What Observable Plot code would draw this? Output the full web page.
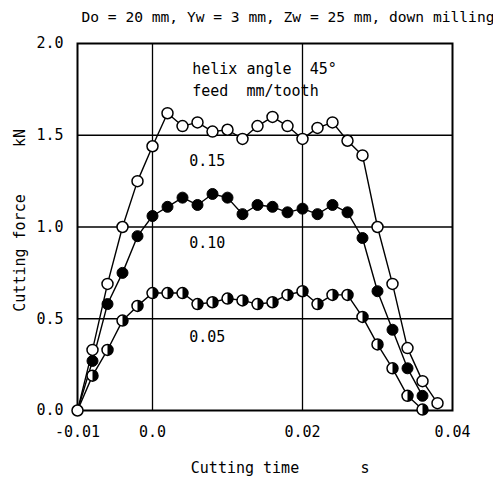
<!DOCTYPE html>
<html><head><meta charset="utf-8">
<script src="https://cdn.jsdelivr.net/npm/d3@7"></script>
<script src="https://cdn.jsdelivr.net/npm/@observablehq/plot@0.6"></script>
<style>body{margin:0;background:#fff}</style>
</head><body><div id="chart"></div>
<script>
const times = [-0.010,-0.008,-0.006,-0.004,-0.002,0.000,0.002,0.004,0.006,0.008,0.010,0.012,0.014,0.016,0.018,0.020,0.022,0.024,0.026,0.028,0.030,0.032,0.034,0.036,0.038];
const force015 = [0,0.33,0.69,1.00,1.25,1.44,1.62,1.55,1.57,1.52,1.53,1.48,1.55,1.60,1.55,1.48,1.54,1.57,1.47,1.39,1.00,0.69,0.34,0.16,0.04];
const force010 = [0,0.27,0.58,0.75,0.95,1.06,1.11,1.16,1.12,1.18,1.16,1.07,1.12,1.11,1.08,1.10,1.07,1.12,1.08,0.94,0.65,0.44,0.23,0.08];
const force005 = [0,0.19,0.33,0.49,0.57,0.64,0.64,0.64,0.58,0.59,0.61,0.60,0.58,0.59,0.63,0.65,0.58,0.63,0.63,0.51,0.36,0.23,0.08,0.005];
const xTicks = [-0.01, 0, 0.02, 0.04];
const xTickLabels = ["-0.01", "0.0", "0.02", "0.04"];
const yTicks = [0, 0.5, 1, 1.5, 2];
const yTickLabels = ["0.0", "0.5", "1.0", "1.5", "2.0"];
const xGrid = [0, 0.02];
const yGrid = [0.5, 1.0, 1.5];
const feedLabels = ["0.15", "0.10", "0.05"];
const titleText = "Do = 20 mm, Yw = 3 mm, Zw = 25 mm, down milling";
const noteLines = ["helix angle  45°", "feed  mm/tooth"];

const s015 = times.map((t, i) => ({t, f: force015[i]}));
const s010 = force010.map((f, i) => ({t: times[i], f}));
const s005 = force005.map((f, i) => ({t: times[i], f}));

const halfRight = {
  draw(ctx, size) {
    const r = Math.sqrt(size / Math.PI);
    ctx.moveTo(0, -r);
    ctx.arc(0, 0, r, -Math.PI / 2, Math.PI / 2);
    ctx.closePath();
  }
};

const R = 5.5;
const chart = Plot.plot({
  width: 493,
  height: 480,
  marginLeft: 77,
  marginRight: 41,
  marginTop: 43,
  marginBottom: 70,
  style: {fontFamily: "DejaVu Sans Mono", fontSize: "15px", background: "white", color: "black"},
  x: {domain: [-0.01, 0.04]},
  y: {domain: [0, 2]},
  marks: [
    Plot.ruleX(xGrid, {stroke: "black", strokeWidth: 1.3}),
    Plot.ruleY(yGrid, {stroke: "black", strokeWidth: 1.3}),
    Plot.frame({stroke: "black", strokeWidth: 2}),
    Plot.axisX({ticks: xTicks, tickFormat: (d, i) => xTickLabels[i], tickSize: 0, tickPadding: 16, fontSize: 15, label: null}),
    Plot.axisY({ticks: yTicks, tickFormat: (d, i) => yTickLabels[i], tickSize: 0, tickPadding: 14, fontSize: 15, label: null}),
    Plot.line(s015, {x: "t", y: "f", stroke: "black", strokeWidth: 1.4}),
    Plot.line(s010, {x: "t", y: "f", stroke: "black", strokeWidth: 1.4}),
    Plot.line(s005, {x: "t", y: "f", stroke: "black", strokeWidth: 1.4}),
    Plot.dot(s005.slice(1), {x: "t", y: "f", r: R, fill: "white", stroke: "black", strokeWidth: 1.5}),
    Plot.dot(s005.slice(1), {x: "t", y: "f", r: R, symbol: halfRight, fill: "black"}),
    Plot.dot(s010.slice(1), {x: "t", y: "f", r: R, fill: "black", stroke: "black", strokeWidth: 1}),
    Plot.dot(s015, {x: "t", y: "f", r: R, fill: "white", stroke: "black", strokeWidth: 1.5}),
    Plot.text([feedLabels[0]], {x: 0.0049, y: 1.36, textAnchor: "start", fontSize: 15}),
    Plot.text([feedLabels[1]], {x: 0.0049, y: 0.91, textAnchor: "start", fontSize: 15}),
    Plot.text([feedLabels[2]], {x: 0.0049, y: 0.40, textAnchor: "start", fontSize: 15}),
    Plot.text([noteLines[0]], {x: 0.0053, y: 1.86, textAnchor: "start", fontSize: 15}),
    Plot.text([noteLines[1]], {x: 0.0053, y: 1.74, textAnchor: "start", fontSize: 15}),
    Plot.text([titleText], {frameAnchor: "top-left", dx: 4, dy: -26, textAnchor: "start", lineAnchor: "middle", fontSize: 14.6}),
    Plot.text(["Cutting force"], {frameAnchor: "left", rotate: -90, dx: -57, dy: 26, textAnchor: "middle", lineAnchor: "middle", fontSize: 15}),
    Plot.text(["kN"], {frameAnchor: "left", rotate: -90, dx: -57, dy: -89, textAnchor: "middle", lineAnchor: "middle", fontSize: 15}),
    Plot.text(["Cutting time"], {frameAnchor: "bottom", dx: -20, dy: 58, textAnchor: "middle", lineAnchor: "middle", fontSize: 15}),
    Plot.text(["s"], {frameAnchor: "bottom", dx: 100, dy: 58, textAnchor: "middle", lineAnchor: "middle", fontSize: 15})
  ]
});
document.getElementById("chart").appendChild(chart);
</script>
</body></html>
